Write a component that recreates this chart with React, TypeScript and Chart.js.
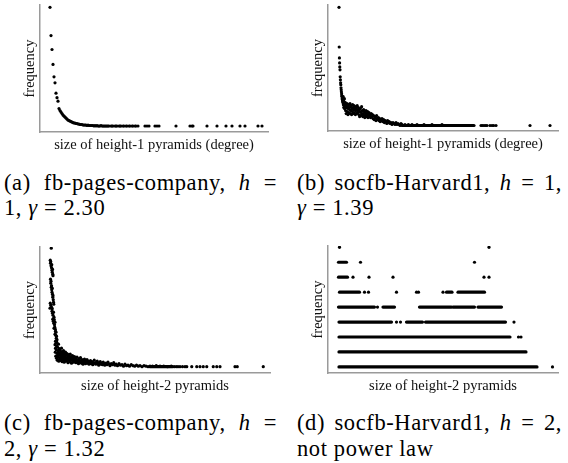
import React, { useEffect, useRef } from "react";
import { Chart, registerables } from "chart.js";
Chart.register(...registerables);

// ---------- Panel (a): fb-pages-company, h = 1 (size, frequency) ----------
const aPoints: [number, number][] = [
  [1, 240], [2, 183], [3, 155], [4, 125], [5, 100], [6, 88], [7, 67], [8, 58], [9, 51],
  [10, 36], [11, 32], [12, 29], [13, 26], [14, 23], [15, 21], [16, 19], [17, 17], [18, 15],
  [19, 13], [20, 12], [21, 11], [22, 10], [23, 9], [24, 8], [25, 7], [26, 7], [27, 6],
  [28, 6], [29, 5], [30, 5], [31, 4], [32, 4], [33, 4], [34, 3], [35, 3], [36, 3], [37, 3],
  [38, 2], [39, 3], [40, 2], [41, 2], [42, 2], [43, 2], [44, 2], [45, 1], [46, 2], [47, 1],
  [48, 2], [49, 1], [50, 1], [51, 1], [52, 2], [53, 1], [54, 1], [55, 1], [56, 1], [57, 1],
  [58, 1], [59, 1], [60, 1], [62, 1], [63, 1], [64, 1], [66, 1], [67, 1], [68, 1], [70, 1],
  [71, 1], [72, 1], [74, 1], [75, 1], [77, 1], [78, 1], [80, 1], [81, 1], [83, 1], [84, 1],
  [86, 1], [87, 1], [89, 1], [96, 1], [98, 1], [100, 1], [106, 1], [108, 1], [110, 1],
  [127, 1], [141, 1], [143, 1], [144, 1], [158, 1], [168, 1], [177, 1], [183, 1], [191, 1],
  [196, 1], [209, 1], [213, 1],
];

// ---------- Panel (b): socfb-Harvard1, h = 1 ----------
const bPoints: [number, number][] = [
  [5, 120], [6, 80], [7, 69], [8, 64], [9, 60], [10, 57], [11, 50], [12, 47], [13, 44],
  [14, 42], [15, 39], [16, 37], [17, 35], [18, 33], [19, 31], [20, 30], [21, 28], [22, 27],
  [23, 26], [24, 25], [25, 24],
  [26, 30], [27, 22], [28, 27], [29, 19], [30, 25], [31, 21], [32, 28], [33, 18], [34, 23], [35, 20],
  [37, 24], [38, 16], [40, 21], [41, 13], [43, 19], [45, 23], [46, 15], [48, 20], [50, 12],
  [51, 18], [53, 22], [55, 14], [56, 19], [58, 17], [60, 23], [61, 13], [63, 20], [65, 16],
  [66, 21], [68, 12], [70, 18], [72, 15], [73, 22], [75, 19], [77, 13], [79, 17], [80, 21],
  [82, 14], [84, 18], [86, 20], [87, 12], [89, 16], [91, 19], [93, 13], [95, 17], [96, 21],
  [98, 14], [100, 16],
  [102, 19], [104, 12], [106, 17], [108, 10], [110, 15], [112, 18], [114, 11], [116, 14],
  [118, 20], [120, 12], [122, 16], [124, 10], [126, 13], [128, 17], [130, 11], [132, 15],
  [134, 9], [136, 14], [138, 12], [140, 16], [142, 10], [144, 13], [146, 11], [148, 15],
  [150, 9], [152, 12], [155, 14], [158, 10], [160, 12], [163, 9], [166, 13], [169, 10],
  [172, 12], [175, 8], [178, 11], [181, 7], [184, 10], [187, 9], [190, 6], [193, 11],
  [196, 8], [199, 7], [202, 9], [205, 6], [208, 8], [211, 5], [214, 7], [217, 6], [220, 8],
  [224, 5], [228, 7], [232, 4], [236, 6], [240, 5], [244, 3], [248, 6], [252, 4], [256, 5],
  [260, 3], [265, 4], [270, 2], [275, 4], [280, 3], [285, 2], [290, 4], [295, 2], [300, 3],
  [305, 2], [310, 1], [315, 3], [320, 2],
  [335, 2], [352, 2], [370, 2], [395, 2], [430, 2], [470, 2], [520, 2],
  [715, 1], [722, 1], [730, 1], [738, 1], [745, 1], [760, 1], [770, 1], [778, 1], [790, 1],
  [960, 1], [1060, 1],
];
// runs of consecutive sizes with the same frequency: [frequency, from, to]
const bRuns: [number, number, number][] = [[1, 320, 680]];

// ---------- Panel (c): fb-pages-company, h = 2 ----------
const cPoints: [number, number][] = [
  [5, 238],
  [1, 214], [2, 208], [3, 211], [4, 203], [6, 199], [7, 205], [8, 194], [9, 190], [10, 196],
  [11, 186], [12, 183],
  [2, 176], [3, 168], [4, 172], [5, 160], [6, 163], [7, 155], [8, 150], [9, 158], [10, 146],
  [11, 140], [12, 143], [13, 135], [1, 128], [14, 130], [3, 124], [6, 120], [15, 126],
  [9, 117], [0, 118],
  [8, 112], [10, 108], [12, 104], [14, 110], [16, 100], [11, 96], [13, 92], [17, 95],
  [15, 88], [18, 85], [20, 90], [19, 80], [21, 76], [16, 78], [22, 72], [24, 70], [20, 66],
  [23, 64], [26, 62], [25, 58], [28, 55], [22, 52], [27, 50],
  [20, 45], [21, 30], [22, 38], [23, 22], [24, 48], [25, 35], [26, 18], [27, 42], [28, 28],
  [29, 14], [30, 40], [31, 25], [32, 33], [33, 20], [34, 46], [35, 12], [36, 29], [37, 37],
  [38, 16], [39, 24], [40, 34], [41, 19], [42, 27], [43, 13], [44, 31], [45, 22], [46, 38],
  [47, 17], [48, 26], [49, 11], [50, 30], [51, 20], [52, 24], [53, 15], [54, 33], [55, 18],
  [56, 28], [57, 10], [58, 22], [59, 26], [60, 14],
  [62, 30], [63, 19], [65, 24], [66, 12], [68, 27], [69, 16], [71, 21], [72, 9], [74, 25],
  [75, 14], [77, 18], [78, 22], [80, 11], [81, 26], [83, 15], [85, 20], [86, 8], [88, 17],
  [90, 23], [91, 12], [93, 19], [95, 10], [96, 16], [98, 21], [100, 13],
  [102, 18], [104, 9], [106, 15], [108, 20], [110, 11], [112, 14], [114, 7], [116, 17],
  [118, 12], [120, 10], [122, 19], [124, 13], [126, 8], [128, 15], [130, 11], [132, 6],
  [134, 14], [136, 9], [138, 16], [140, 12], [142, 7], [144, 13], [146, 10], [148, 15], [150, 8],
  [153, 12], [156, 6], [159, 10], [162, 13], [165, 7], [168, 11], [171, 5], [174, 9],
  [177, 14], [180, 8], [183, 6], [186, 10], [189, 12], [192, 7], [195, 4], [198, 9],
  [201, 11], [204, 6], [207, 8], [210, 5], [213, 10], [216, 7], [219, 4],
  [224, 8], [228, 5], [232, 10], [236, 6], [240, 3], [245, 7], [250, 5], [255, 9], [260, 4],
  [265, 6], [270, 3], [276, 7], [282, 4], [288, 5], [294, 2], [300, 6], [306, 3], [312, 4],
  [318, 2], [325, 5], [332, 3], [339, 2], [346, 4], [353, 2], [360, 3], [368, 1], [376, 3],
  [384, 2], [392, 1], [400, 2],
  [410, 2], [425, 3], [440, 2], [455, 2], [470, 1], [485, 2], [497, 1], [505, 1], [512, 1],
  [520, 1], [530, 1], [540, 1], [547, 1],
  [567, 1], [587, 1], [600, 1], [613, 1], [627, 1], [653, 1], [667, 1], [680, 1], [740, 1],
  [749, 1], [853, 1],
];
const cRuns: [number, number, number][] = [[1, 400, 490]];

// ---------- Panel (d): socfb-Harvard1, h = 2 ----------
// runs of consecutive sizes with the same frequency: [frequency, from, to]
const dRuns: [number, number, number][] = [
  [1, 2, 398],
  [2, 2, 376],
  [3, 2, 344],
  [4, 2, 107], [4, 137, 169], [4, 175, 335],
  [5, 1, 73], [5, 90, 113], [5, 163, 227], [5, 230, 273], [5, 280, 327],
  [6, 3, 43], [6, 217, 228], [6, 240, 293],
  [7, 1, 19],
  [8, 1, 17],
];
// isolated sizes: [size, frequency]
const dDots: [number, number][] = [
  [429, 1],
  [361, 3], [366, 3],
  [117, 4], [125, 4], [352, 4],
  [79, 5],
  [53, 6], [61, 6], [117, 6], [157, 6], [161, 6], [210, 6],
  [30, 7], [62, 7], [110, 7], [292, 7], [302, 7],
  [45, 8], [273, 8],
  [3, 9], [302, 9],
];

const SERIF = "'Liberation Serif', 'Times New Roman', serif";

type PanelCfg = {
  left: number; top: number; width: number; height: number;
  pad: { left: number; right: number; top: number; bottom: number };
  x: [number, number]; y: [number, number];
  points: [number, number][];
  runs: [number, number, number][];
  xTitle: string;
};

function buildDatasets(points: [number, number][], runs: [number, number, number][]) {
  const ds: any[] = [
    {
      data: points.map(([x, y]) => ({ x, y })),
      pointRadius: 1.6,
      pointBackgroundColor: "#000",
      pointBorderWidth: 0,
      showLine: false,
    },
  ];
  runs.forEach(([f, a, b]) => {
    ds.push({
      data: [{ x: a, y: f }, { x: b, y: f }],
      showLine: true,
      pointRadius: 0,
      borderColor: "#000",
      borderWidth: 3.2,
      borderCapStyle: "round",
    });
  });
  return ds;
}

function Panel({ cfg }: { cfg: PanelCfg }) {
  const ref = useRef<HTMLCanvasElement>(null);
  useEffect(() => {
    if (!ref.current) return;
    const axisBorder = { display: true, color: "#9a9a9a", width: 1.5 };
    const titleFont = { family: SERIF, size: 14.5, lineHeight: 1.2 };
    const chart = new Chart(ref.current, {
      type: "scatter",
      data: { datasets: buildDatasets(cfg.points, cfg.runs) },
      options: {
        animation: false,
        responsive: false,
        events: [],
        layout: { padding: cfg.pad },
        plugins: { legend: { display: false }, tooltip: { enabled: false } },
        scales: {
          x: {
            type: "linear",
            min: cfg.x[0],
            max: cfg.x[1],
            grid: { display: false, drawTicks: false },
            border: axisBorder,
            ticks: { display: false },
            title: {
              display: true,
              text: cfg.xTitle,
              color: "#111",
              font: titleFont,
              padding: { top: 4, bottom: 2 },
            },
          },
          y: {
            type: "linear",
            min: cfg.y[0],
            max: cfg.y[1],
            grid: { display: false, drawTicks: false },
            border: axisBorder,
            ticks: { display: false },
            title: {
              display: true,
              text: "frequency",
              color: "#111",
              font: titleFont,
              padding: { top: 3, bottom: 1 },
            },
          },
        },
      } as any,
    });
    return () => chart.destroy();
  }, [cfg]);
  return (
    <canvas
      ref={ref}
      width={cfg.width}
      height={cfg.height}
      style={{ position: "absolute", left: cfg.left, top: cfg.top, width: cfg.width, height: cfg.height }}
    />
  );
}

const panels: PanelCfg[] = [
  {
    left: 0, top: 0, width: 284, height: 160,
    pad: { left: 18.6, right: 16, top: 5, bottom: 4.6 },
    x: [-9, 219], y: [-11.07, 244.6],
    points: aPoints, runs: [],
    xTitle: "size of height-1 pyramids (degree)",
  },
  {
    left: 284, top: 0, width: 284, height: 160,
    pad: { left: 22.6, right: 10, top: 5, bottom: 5.6 },
    x: [-50, 1100], y: [-4.53, 122.3],
    points: bPoints, runs: bRuns,
    xTitle: "size of height-1 pyramids (degree)",
  },
  {
    left: 0, top: 230, width: 284, height: 170,
    pad: { left: 18.6, right: 14, top: 17, bottom: 3.6 },
    x: [-40, 880], y: [-11.6, 240.4],
    points: cPoints, runs: cRuns,
    xTitle: "size of height-2 pyramids",
  },
  {
    left: 284, top: 230, width: 284, height: 170,
    pad: { left: 22.6, right: 10, top: 16, bottom: 3.6 },
    x: [-20, 440], y: [0.592, 9.087],
    points: dDots, runs: dRuns,
    xTitle: "size of height-2 pyramids",
  },
];

const captionStyle: React.CSSProperties = {
  position: "absolute",
  fontFamily: SERIF,
  fontSize: 22.5,
  letterSpacing: "0.6px",
  lineHeight: "26px",
  color: "#000",
  whiteSpace: "nowrap",
};

function Caption({ left, top, width, line1, line2 }: { left: number; top: number; width: number; line1: React.ReactNode; line2: React.ReactNode }) {
  return (
    <>
      <div style={{ ...captionStyle, left, top, width, whiteSpace: "normal", textAlign: "justify", textAlignLast: "justify" as any }}>{line1}</div>
      <div style={{ ...captionStyle, left, top: top + 25.5 }}>{line2}</div>
    </>
  );
}

export default function App() {
  return (
    <div style={{ position: "absolute", left: 0, top: 0, width: 568, height: 463, background: "#fff", overflow: "hidden" }}>
      {panels.map((p, i) => (
        <Panel key={i} cfg={p} />
      ))}
      <Caption left={4} top={169.5} width={273}
        line1={<>(a) fb-pages-company, <i>h</i> =</>}
        line2={<>1, <i>γ</i> = 2.30</>} />
      <Caption left={297} top={169.5} width={265}
        line1={<>(b) socfb-Harvard1, <i>h</i> = 1,</>}
        line2={<><i>γ</i> = 1.39</>} />
      <Caption left={4} top={410} width={273}
        line1={<>(c) fb-pages-company, <i>h</i> =</>}
        line2={<>2, <i>γ</i> = 1.32</>} />
      <Caption left={297} top={410} width={265}
        line1={<>(d) socfb-Harvard1, <i>h</i> = 2,</>}
        line2={<>not power law</>} />
    </div>
  );
}
